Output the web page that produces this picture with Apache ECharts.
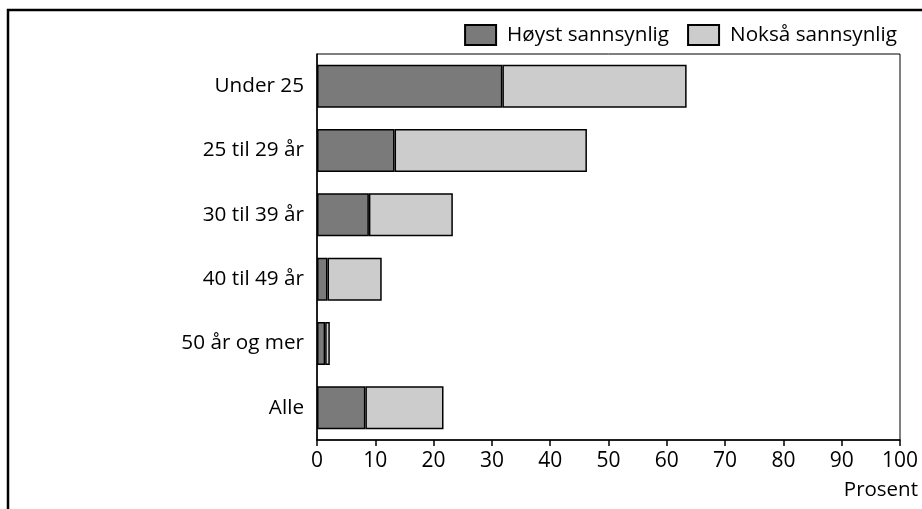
<!DOCTYPE html>
<html>
<head>
<meta charset="utf-8">
<script src="https://cdn.jsdelivr.net/npm/echarts@6/dist/echarts.min.js"></script>
<style>
  html, body { margin: 0; padding: 0; background: #fff; }
  #chart { width: 922px; height: 509px; }
</style>
</head>
<body>
<div id="chart"></div>
<script>
const categories = ['Under 25', '25 til 29 år', '30 til 39 år', '40 til 49 år', '50 år og mer', 'Alle'];
const seriesNames = ['Høyst sannsynlig', 'Nokså sannsynlig'];
const hoystValues = [31.8, 13.3, 8.9, 1.8, 1.4, 8.3];
const noksaValues = [31.6, 33.0, 14.4, 9.3, 0.8, 13.4];
const xTicks = [0, 100, 10]; // min, max, interval

const font = '"Open Sans", "Noto Sans", sans-serif';

const chart = echarts.init(document.getElementById('chart'));

const barStyle = function (color) {
    return {
        color: color,
        borderColor: '#000',
        borderWidth: 1.5
    };
};

chart.setOption({
    animation: false,
    backgroundColor: '#fff',
    textStyle: { fontFamily: font, color: '#000' },
    graphic: [{
        type: 'rect',
        shape: { x: 8, y: 10, width: 1000, height: 1000 },
        style: { fill: 'none', stroke: '#000', lineWidth: 2.5 },
        silent: true
    }],
    legend: {
        data: seriesNames,
        icon: 'rect',
        right: 25,
        top: 24,
        padding: 0,
        itemWidth: 31,
        itemHeight: 20,
        itemGap: 18,
        textStyle: { fontSize: 20.7, color: '#000', fontFamily: font, padding: [0, 0, 0, 6] }
    },
    grid: {
        left: 317,
        right: 22,
        top: 54,
        bottom: 69,
        show: true,
        borderColor: '#000',
        borderWidth: 1
    },
    xAxis: {
        type: 'value',
        min: xTicks[0],
        max: xTicks[1],
        interval: xTicks[2],
        name: 'Prosent',
        nameLocation: 'end',
        nameGap: 18,
        nameTextStyle: {
            fontSize: 20.5,
            color: '#000',
            align: 'right',
            verticalAlign: 'top',
            padding: [40, 0, 0, 0]
        },
        axisLine: { show: true, lineStyle: { color: '#000', width: 1.5 } },
        axisTick: { show: true, length: 6, lineStyle: { color: '#000', width: 1.5 } },
        axisLabel: { fontSize: 21, color: '#000', margin: 11 },
        splitLine: { show: false }
    },
    yAxis: {
        type: 'category',
        data: categories,
        inverse: true,
        axisLine: { show: true, lineStyle: { color: '#000', width: 1.5 } },
        axisTick: { show: false },
        axisLabel: { fontSize: 20.7, color: '#000', margin: 13 }
    },
    series: [{
        name: seriesNames[0],
        type: 'bar',
        stack: 'total',
        barWidth: 43,
        data: hoystValues,
        itemStyle: barStyle('#7a7a7a')
    }, {
        name: seriesNames[1],
        type: 'bar',
        stack: 'total',
        barWidth: 43,
        data: noksaValues,
        itemStyle: barStyle('#cccccc')
    }]
});
</script>
</body>
</html>
